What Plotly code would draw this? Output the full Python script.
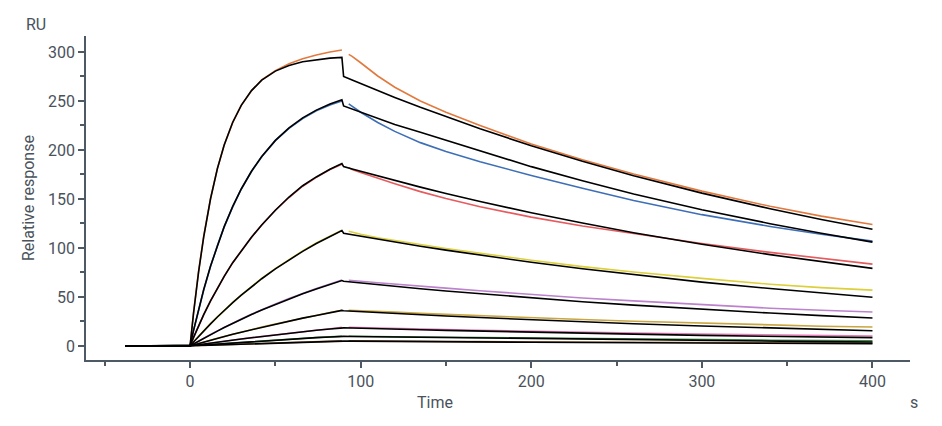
import plotly.graph_objects as go

# time grids (s)
t_base = [-38]
t_on = [0, 2, 5, 8, 12, 16, 20, 25, 30, 36, 42, 50, 58, 66, 74, 82, 89]
t_fit_off = [90, 95, 100, 110, 120, 135, 150, 170, 200, 230, 260, 300, 340, 370, 400]
t_data_off = [93, 95, 100, 110, 120, 135, 150, 170, 200, 230, 260, 300, 340, 370, 400]

# measured curves (RU), association / dissociation
orange_on = [0, 33.5, 76.5, 112, 150.5, 181, 205, 228, 245.5, 260.5, 271.5, 281, 288, 293, 297, 300, 302]
orange_off = [297.5, 295.5, 289, 275.5, 264, 250, 238.5, 225, 206, 190, 175.5, 158, 142.5, 132.5, 124]
blue_on = [0, 15.5, 37, 57, 81, 102.5, 121.5, 142, 160, 178, 193, 209.5, 222, 232, 240, 246, 250]
blue_off = [247, 244.5, 238.5, 228, 219, 207.5, 198.5, 188, 174, 161, 148.5, 134, 122, 114, 107]
red_on = [0, 8.5, 20.5, 32, 46, 59, 71, 85, 97, 111, 123.5, 138.5, 151.5, 163, 172, 180, 185.5]
red_off = [182, 180, 177, 171, 165.5, 157.5, 150.5, 142, 131.5, 122.5, 114.5, 104.5, 95.5, 89.5, 83.5]
yellow_on = [0, 4, 10, 15.5, 22.8, 29.8, 36.5, 44.5, 52, 60.8, 69, 79, 88.3, 97, 105, 112.3, 118]
yellow_off = [117, 116, 114, 110.5, 107.5, 103.5, 99.5, 94.5, 87.5, 81, 75.5, 69, 63, 59.5, 57]
purple_on = [0, 2, 5.1, 7.9, 11.8, 15.4, 19, 23.3, 27.6, 32.4, 37, 42.9, 48.4, 53.7, 58.7, 63.3, 67.3]
purple_off = [67, 66.6, 66, 64.5, 63, 60.8, 59, 56.3, 52.5, 49, 46, 42, 38.5, 36.5, 34.7]
gold_on = [0, 1, 2.6, 4.1, 6, 7.9, 9.7, 12, 14.3, 16.8, 19.3, 22.5, 25.6, 28.6, 31.4, 34.2, 36.5]
gold_off = [36.5, 36.3, 36, 35.2, 34.5, 33.3, 32.2, 30.8, 28.8, 27, 25.3, 23.2, 21.3, 20.2, 19.4]
pink_on = [0, 0.5, 1.3, 2.1, 3, 4, 4.9, 6, 7.2, 8.5, 9.8, 11.4, 13, 14.6, 16.1, 17.6, 19]
pink_off = [19, 18.9, 18.8, 18.4, 18, 17.4, 16.8, 16.1, 15, 14.1, 13.3, 12.2, 11.3, 10.7, 10.2]
green_on = [0, 0.3, 0.7, 1.1, 1.6, 2.1, 2.6, 3.2, 3.8, 4.5, 5.1, 6, 6.9, 7.7, 8.6, 9.3, 10]
green_off = [10, 10, 9.9, 9.7, 9.5, 9.2, 8.9, 8.5, 8, 7.4, 7, 6.4, 5.9, 5.6, 5.4]
brown_on = [0, 0.15, 0.3, 0.5, 0.8, 1.05, 1.3, 1.6, 1.9, 2.25, 2.6, 3.05, 3.5, 3.95, 4.4, 4.8, 5.2]
brown_off = [5.2, 5.2, 5.1, 5.0, 4.9, 4.8, 4.6, 4.4, 4.1, 3.8, 3.6, 3.3, 3.1, 2.9, 2.8]

# fitted curves (black)
fit1_on = [0, 32.9, 75.6, 111.4, 150.2, 180.8, 205.0, 228.3, 245.6, 260.6, 271.2, 280.5, 286.3, 290.0, 292.2, 293.7, 294.5]
fit1_off = [275, 271.3, 267.7, 260.5, 253.6, 243.5, 233.9, 221.6, 204.3, 188.4, 173.8, 156.0, 140.0, 129.1, 119.1]
fit2_on = [0, 15.7, 37.6, 57.6, 81.6, 102.9, 121.8, 142.5, 160.2, 178.3, 193.4, 209.8, 222.6, 232.7, 240.7, 246.9, 251.3]
fit2_off = [245, 241.7, 238.5, 232.1, 225.9, 218, 210, 199, 183, 168.5, 155, 139, 124.8, 115, 106]
fit3_on = [0, 8.5, 20.5, 32, 46, 59, 71, 85, 97, 111, 123.5, 138.5, 152, 163.5, 172.5, 180.3, 186.2]
fit3_off = [183, 180.5, 178.1, 173.4, 168.8, 162.1, 155.6, 147.4, 136.0, 125.4, 115.6, 103.8, 93.2, 85.9, 79.2]
fit4_on = [0, 4.0, 9.8, 15.4, 22.6, 29.6, 36.3, 44.2, 51.8, 60.5, 68.6, 78.7, 88.0, 96.6, 104.6, 111.9, 117.9]
fit4_off = [115, 113.5, 111.9, 109.0, 106.1, 101.8, 97.8, 92.7, 85.4, 78.8, 72.7, 65.2, 58.6, 54.0, 49.8]
fit5_on = [0, 2.0, 5.0, 7.8, 11.6, 15.2, 18.8, 23.1, 27.3, 32.1, 36.7, 42.5, 48.0, 53.3, 58.2, 62.9, 66.8]
fit5_off = [66, 65.1, 64.2, 62.5, 60.9, 58.4, 56.1, 53.2, 49.0, 45.2, 41.7, 37.4, 33.6, 31.0, 28.6]
fit6_on = [0, 1.0, 2.5, 4.0, 5.9, 7.8, 9.6, 11.9, 14.1, 16.6, 19.1, 22.3, 25.4, 28.4, 31.2, 34.0, 36.3]
fit6_off = [36, 35.5, 35.0, 34.1, 33.2, 31.9, 30.6, 29.0, 26.7, 24.7, 22.7, 20.4, 18.3, 16.9, 15.6]
fit7_on = [0, 0.5, 1.2, 2.0, 2.9, 3.9, 4.8, 5.9, 7.1, 8.4, 9.7, 11.3, 12.9, 14.5, 16.0, 17.4, 18.7]
fit7_off = [18.5, 18.3, 18.0, 17.6, 17.2, 16.5, 15.9, 15.1, 14.0, 13.0, 12.1, 10.8, 9.8, 9.1, 8.5]
fit8_on = [0, 0.25, 0.6, 1.0, 1.5, 2.0, 2.5, 3.1, 3.7, 4.4, 5.0, 5.9, 6.8, 7.6, 8.5, 9.2, 9.9]
fit8_off = [9.8, 9.7, 9.6, 9.3, 9.1, 8.7, 8.4, 7.9, 7.3, 6.7, 6.2, 5.5, 4.9, 4.5, 4.1]
fit9_on = [0, 0.13, 0.3, 0.5, 0.75, 1.0, 1.25, 1.55, 1.85, 2.2, 2.55, 3.0, 3.5, 3.9, 4.35, 4.75, 5.1]
fit9_off = [5.0, 5.0, 4.9, 4.8, 4.7, 4.5, 4.3, 4.1, 3.8, 3.5, 3.25, 2.9, 2.7, 2.55, 2.4]

measured = [
    ("#E27A3F", orange_on, orange_off),
    ("#3E6FB6", blue_on, blue_off),
    ("#E65B5E", red_on, red_off),
    ("#DCCF3A", yellow_on, yellow_off),
    ("#BC82CC", purple_on, purple_off),
    ("#C9A640", gold_on, gold_off),
    ("#E67DB8", pink_on, pink_off),
    ("#3E8E48", green_on, green_off),
    ("#A8703A", brown_on, brown_off),
]
fits = [
    (fit1_on, fit1_off), (fit2_on, fit2_off), (fit3_on, fit3_off),
    (fit4_on, fit4_off), (fit5_on, fit5_off), (fit6_on, fit6_off),
    (fit7_on, fit7_off), (fit8_on, fit8_off), (fit9_on, fit9_off),
]

axis_color = "#4d5965"
text_color = "#4a525c"
font_family = "Roboto, Arial, sans-serif"

fig = go.Figure()

for color, on, off in measured:
    fig.add_trace(go.Scatter(
        x=t_base + t_on + [None] + t_data_off,
        y=[0] + on + [None] + off,
        mode="lines",
        line=dict(color=color, width=1.6),
        showlegend=False,
        hoverinfo="skip",
    ))

for on, off in fits:
    fig.add_trace(go.Scatter(
        x=t_base + t_on + t_fit_off,
        y=[0] + on + off,
        mode="lines",
        line=dict(color="black", width=1.6),
        showlegend=False,
        hoverinfo="skip",
    ))

# page body adds an 8px offset, so the figure is a bit smaller than the window
fig.update_layout(
    width=934,
    height=418,
    margin=dict(l=78, r=32, t=28, b=66),
    plot_bgcolor="white",
    paper_bgcolor="white",
    font=dict(family=font_family, size=16, color=text_color),
    xaxis=dict(
        range=[-61, 422],
        tick0=0, dtick=100,
        automargin=False,
        showgrid=False, zeroline=False,
        showline=True, linecolor=axis_color, linewidth=1.5,
        ticks="outside", ticklen=6, tickwidth=1.5, tickcolor=axis_color,
        minor=dict(ticks="outside", dtick=50, ticklen=4, tickwidth=1.5, tickcolor=axis_color),
        tickfont=dict(size=16, color=text_color),
    ),
    yaxis=dict(
        range=[-14.3, 316.3],
        tick0=0, dtick=50,
        automargin=False,
        showgrid=False, zeroline=False,
        showline=True, linecolor=axis_color, linewidth=1.5,
        ticks="outside", ticklen=6, tickwidth=1.5, tickcolor=axis_color,
        minor=dict(ticks="outside", dtick=25, ticklen=4, tickwidth=1.5, tickcolor=axis_color),
        tickfont=dict(size=16, color=text_color),
    ),
    annotations=[
        dict(text="Time", xref="paper", yref="paper", x=0.4235, y=-0.13,
             xanchor="center", yanchor="middle", showarrow=False),
        dict(text="s", xref="paper", yref="paper", x=1.005, y=-0.13,
             xanchor="center", yanchor="middle", showarrow=False),
        dict(text="RU", xref="paper", yref="paper", x=-0.061, y=1.034,
             xanchor="center", yanchor="middle", showarrow=False),
        dict(text="Relative response", xref="paper", yref="paper", x=-0.0704, y=0.5,
             xanchor="center", yanchor="middle", textangle=-90, showarrow=False),
    ],
)

fig.write_html("out.html")
